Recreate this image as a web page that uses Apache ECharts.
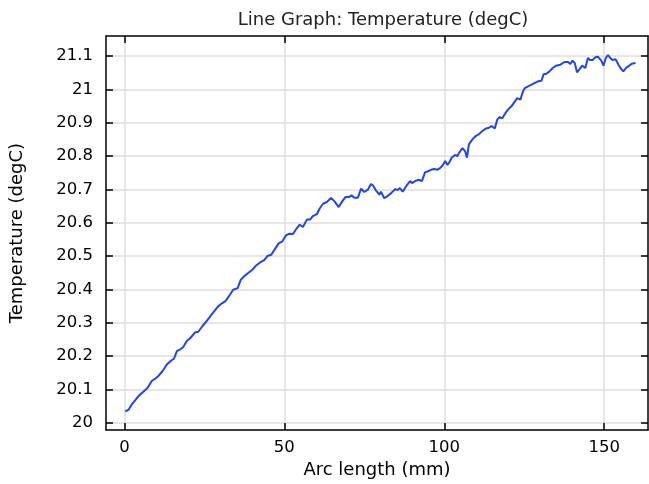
<!DOCTYPE html>
<html>
<head>
<meta charset="utf-8">
<title>Line Graph: Temperature (degC)</title>
<script src="https://cdn.jsdelivr.net/npm/echarts@6/dist/echarts.min.js"></script>
<style>
  html, body { margin: 0; padding: 0; background: #fff; }
  #chart { width: 649px; height: 484px; }
</style>
</head>
<body>
<div id="chart"></div>
<script>
// Arc length along the cut line (mm)
const arcLength = [
  0.25, 1.3, 2.3, 3.4, 4.4, 6.0, 7.2, 8.6, 9.9, 10.6,
  12.0, 13.2, 14.5, 15.5, 16.4, 17.6, 18.4, 19.5, 20.7, 22.1,
  23.1, 24.5, 25.7, 27.3, 28.3, 29.3, 30.6, 31.6, 33.0, 34.0,
  35.4, 36.4, 37.4, 38.7, 39.9, 41.0, 42.3, 43.7, 44.7, 45.9,
  47.0, 48.2, 49.3, 50.6, 51.6, 52.7, 53.7, 54.8, 55.8, 57.1,
  58.1, 58.9, 60.2, 61.0, 62.1, 63.3, 64.6, 65.7, 67.0, 68.1,
  69.1, 70.2, 71.0, 71.9, 73.0, 74.0, 75.0, 76.1, 77.1, 77.8,
  78.7, 79.7, 80.2, 81.2, 82.3, 83.3, 84.7, 85.4, 86.1, 87.0,
  88.2, 89.3, 89.9, 90.9, 92.0, 93.0, 94.0, 95.1, 95.9, 96.8,
  97.9, 98.6, 99.4, 100.3, 101.0, 101.7, 102.3, 103.4, 104.1, 104.6,
  105.7, 106.5, 107.1, 107.7, 108.8, 109.8, 110.8, 111.9, 113.1, 114.0,
  114.8, 115.8, 116.6, 117.3, 118.1, 119.2, 120.0, 121.0, 122.1, 122.8,
  123.8, 124.6, 125.2, 126.2, 127.3, 128.0, 128.5, 129.3, 130.4, 131.1,
  131.8, 132.9, 133.9, 135.0, 136.3, 137.6, 138.7, 139.4, 140.1, 140.8,
  141.5, 142.2, 143.1, 144.1, 144.9, 145.6, 146.4, 147.2, 148.0, 149.1,
  149.8, 150.5, 151.2, 151.9, 152.6, 153.6, 154.5, 155.3, 156.0, 156.8,
  157.8, 158.6, 159.2, 159.8
];

// Temperature (degC)
const temperature = [
  20.034, 20.039, 20.055, 20.068, 20.080, 20.094, 20.104, 20.126, 20.134, 20.140,
  20.156, 20.174, 20.186, 20.192, 20.215, 20.221, 20.227, 20.245, 20.255, 20.271,
  20.273, 20.291, 20.305, 20.325, 20.337, 20.349, 20.359, 20.365, 20.384, 20.399,
  20.404, 20.429, 20.439, 20.449, 20.458, 20.470, 20.480, 20.488, 20.500, 20.504,
  20.520, 20.538, 20.543, 20.563, 20.567, 20.566, 20.581, 20.594, 20.587, 20.610,
  20.610, 20.620, 20.626, 20.642, 20.657, 20.662, 20.674, 20.664, 20.647, 20.664,
  20.677, 20.677, 20.682, 20.675, 20.675, 20.702, 20.692, 20.699, 20.716, 20.711,
  20.696, 20.684, 20.693, 20.674, 20.680, 20.688, 20.701, 20.698, 20.704, 20.693,
  20.711, 20.725, 20.719, 20.725, 20.729, 20.725, 20.751, 20.755, 20.759, 20.761,
  20.759, 20.763, 20.771, 20.785, 20.773, 20.783, 20.795, 20.803, 20.800, 20.809,
  20.824, 20.815, 20.795, 20.835, 20.850, 20.860, 20.865, 20.875, 20.883, 20.885,
  20.890, 20.883, 20.910, 20.917, 20.913, 20.930, 20.940, 20.949, 20.964, 20.974,
  20.969, 20.994, 21.004, 21.009, 21.014, 21.018, 21.014, 21.024, 21.026, 21.046,
  21.046, 21.054, 21.064, 21.071, 21.074, 21.082, 21.082, 21.076, 21.086, 21.079,
  21.051, 21.059, 21.071, 21.064, 21.094, 21.088, 21.088, 21.096, 21.098, 21.086,
  21.071, 21.094, 21.103, 21.094, 21.088, 21.090, 21.073, 21.061, 21.054, 21.064,
  21.071, 21.077, 21.073, 21.079
];

// Tick positions
const xTicks = [0, 50, 100, 150];
const yTicks = [20, 20.1, 20.2, 20.3, 20.4, 20.5, 20.6, 20.7, 20.8, 20.9, 21, 21.1];

const xRange = [-5.76, 163.7];
const yRange = [19.978, 21.16];

const FONT = '"DejaVu Sans", sans-serif';
const frameLine = { show: true, onZero: false, lineStyle: { color: '#000', width: 1.5 } };
const gridLine = { show: true, lineStyle: { color: '#dedede', width: 1.5 } };

function baseAxis(range, ticks, extra) {
  return Object.assign({
    type: 'value',
    min: range[0],
    max: range[1],
    axisLine: frameLine,
    axisTick: { show: true, inside: true, length: 7, customValues: ticks, lineStyle: { color: '#000', width: 1.5 } },
    splitLine: { show: false },
    axisLabel: { show: false }
  }, extra);
}

const chart = echarts.init(document.getElementById('chart'), null, { renderer: 'canvas' });

chart.setOption({
  animation: false,
  backgroundColor: '#fff',
  title: {
    text: 'Line Graph: Temperature (degC)',
    left: 378,
    top: 6,
    textAlign: 'center',
    textStyle: { fontFamily: FONT, fontSize: 18, fontWeight: 'normal', color: '#222' }
  },
  grid: { left: 104, right: 1, top: 36, bottom: 51, containLabel: false },
  xAxis: [
    baseAxis(xRange, xTicks, {
      position: 'bottom',
      name: 'Arc length (mm)',
      nameLocation: 'middle',
      nameGap: 26,
      nameTextStyle: { fontFamily: FONT, fontSize: 18, color: '#000' },
      splitLine: gridLine,
      axisLabel: {
        show: true, customValues: xTicks, margin: 9,
        fontFamily: FONT, fontSize: 16.5, color: '#000'
      }
    }),
    baseAxis(xRange, xTicks, { position: 'top' })
  ],
  yAxis: [
    baseAxis(yRange, yTicks, {
      position: 'left',
      name: 'Temperature (degC)',
      nameLocation: 'middle',
      nameGap: 80,
      nameTextStyle: { fontFamily: FONT, fontSize: 18, color: '#000' },
      splitLine: gridLine,
      axisLabel: {
        show: true, customValues: yTicks, margin: 13,
        fontFamily: FONT, fontSize: 16.5, color: '#000',
        formatter: v => String(Math.round(v * 10) / 10)
      }
    }),
    baseAxis(yRange, yTicks, { position: 'right' })
  ],
  series: [{
    type: 'line',
    xAxisIndex: 0,
    yAxisIndex: 0,
    data: arcLength.map((x, i) => [x, temperature[i]]),
    showSymbol: false,
    smooth: false,
    lineStyle: { color: '#2446e0', width: 2 },
    itemStyle: { color: '#2446e0' }
  }]
});
</script>
</body>
</html>
